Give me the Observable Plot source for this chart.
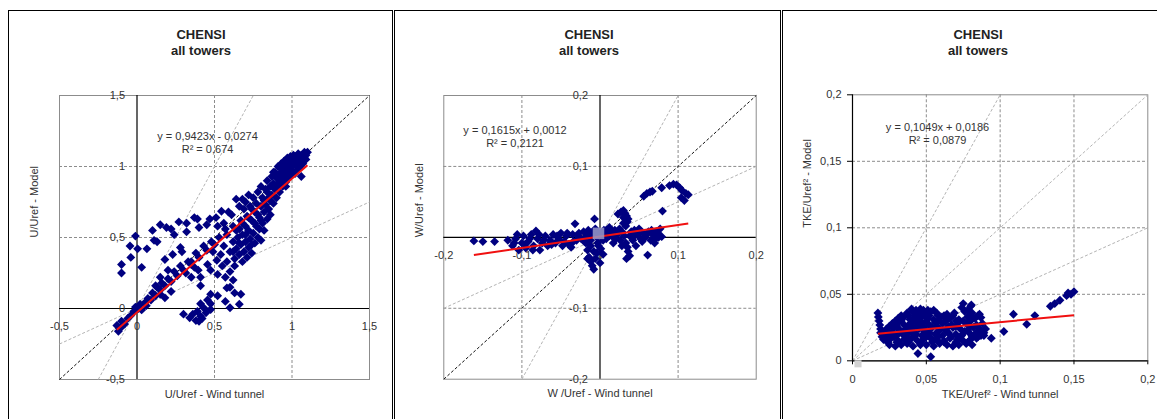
<!DOCTYPE html>
<html><head><meta charset="utf-8">
<script src="https://cdn.jsdelivr.net/npm/d3@7"></script>
<script src="https://cdn.jsdelivr.net/npm/@observablehq/plot@0.6"></script>
<style>
body{margin:0;background:#fff;}
#root{position:relative;width:1157px;height:419px;overflow:hidden;font-family:'Liberation Sans',Arial,sans-serif;}
.box{position:absolute;border:1.5px solid #000;box-sizing:border-box;pointer-events:none;z-index:5;}
.title{position:absolute;width:220px;text-align:center;font-weight:bold;font-size:13px;color:#222;line-height:16px;}
</style></head><body><div id="root"></div>
<script>
// ---------- data ----------
const panelTitles = ["CHENSI", "all towers"];
const xLabels = ["U/Uref - Wind tunnel", "W /Uref - Wind tunnel", "TKE/Uref² - Wind tunnel"];
const yLabels = ["U/Uref - Model", "W/Uref - Model", "TKE/Uref² - Model"];
const equations = ["y = 0,9423x - 0,0274", "y = 0,1615x + 0,0012", "y = 0,1049x + 0,0186"];
const r2Labels = ["R² = 0,674", "R² = 0,2121", "R² = 0,0879"];
const fitSlopes = [0.9423, 0.1615, 0.1049];
const fitIntercepts = [-0.0274, 0.0012, 0.0186];
const refSlopes = [1, 2, 0.5];

const ticksU = [-0.5, 0, 0.5, 1, 1.5];
const gridU = [0.5, 1];
const ticksW = [-0.2, -0.1, 0, 0.1, 0.2];
const gridW = [-0.1, 0.1];
const ticksTKE = [0, 0.05, 0.1, 0.15, 0.2];
const gridTKE = [0.05, 0.1, 0.15];

const uPoints = [
[-0.13,-0.12],[-0.12,-0.16],[-0.10,-0.13],[-0.10,-0.09],[-0.08,-0.11],[-0.06,-0.07],[-0.04,-0.05],[-0.02,-0.02],[-0.01,0.01],[0.01,0.0],
[0.02,0.03],[0.03,-0.01],[0.05,0.04],[0.06,0.02],[0.07,0.07],[0.09,0.06],[0.10,0.11],[0.12,0.09],[0.13,0.15],[0.15,0.13],
[0.16,0.18],[0.18,0.16],[0.20,0.21],[0.22,0.19],[0.24,0.26],[0.26,0.23],[0.28,0.30],[0.30,0.27],[0.33,0.33],[0.35,0.31],
[0.38,0.39],[0.40,0.36],[0.43,0.44],[0.45,0.41],[0.48,0.47],
[-0.10,0.31],[-0.10,0.25],[-0.01,0.51],[-0.045,0.44],[-0.04,0.36],[0.004,0.42],[0.03,0.29],[0.064,0.42],[0.10,0.55],[0.15,0.59],
[0.11,0.48],[0.13,0.47],[0.19,0.57],[0.22,0.56],[0.24,0.52],[0.27,0.61],[0.32,0.60],[0.32,0.54],[0.37,0.64],[0.39,0.63],
[0.40,0.57],[0.45,0.59],[0.47,0.63],[0.51,0.64],[0.545,0.685],[0.59,0.68],[0.61,0.66],[0.64,0.77],[0.28,0.43],[0.29,0.40],
[0.23,0.38],[0.18,0.345],[0.20,0.27],[0.15,0.22],[0.12,0.16],[0.15,0.10],[0.18,0.075],[0.22,0.12],[0.35,0.33],[0.37,0.29],
[0.315,0.25],[0.35,0.22],[0.41,0.22],[0.41,0.16],[0.395,0.27],[0.455,0.31],[0.475,0.27],[0.515,0.34],[0.52,0.24],[0.54,0.38],
[0.57,0.22],[0.58,0.145],[0.63,0.11],[0.67,0.10],[0.66,0.03],[0.60,0.005],[0.57,0.05],[0.52,0.09],[0.475,0.10],[0.455,0.06],
[0.475,0.033],[0.43,0.005],[0.41,0.033],[0.39,-0.02],[0.41,-0.054],[0.36,-0.04],[0.34,-0.066],[0.30,-0.04],[0.38,-0.085],[0.445,-0.03],
[0.475,-0.007],[0.42,-0.07],[0.40,-0.09],
[0.50,0.45],[0.53,0.50],[0.56,0.44],[0.58,0.52],[0.60,0.40],[0.62,0.47],[0.55,0.30],[0.58,0.33],[0.60,0.26],[0.62,0.20],
[0.60,0.15],[0.63,0.30],[0.49,0.40],[0.52,0.58],[0.56,0.60],[0.57,0.56],[0.62,0.58],
[0.63,0.35],[0.64,0.42],[0.65,0.50],[0.66,0.38],[0.66,0.56],[0.67,0.45],[0.67,0.62],[0.68,0.33],[0.68,0.52],[0.69,0.70],
[0.69,0.40],[0.70,0.58],[0.70,0.47],[0.70,0.75],[0.71,0.36],[0.71,0.65],
[0.72,0.43],[0.72,0.55],[0.73,0.72],[0.73,0.49],[0.74,0.62],[0.74,0.39],[0.75,0.78],[0.75,0.53],[0.76,0.46],[0.76,0.68],
[0.77,0.58],[0.77,0.74],[0.78,0.50],[0.78,0.82],[0.79,0.64],[0.79,0.56],[0.80,0.72],[0.80,0.48],[0.80,0.86],
[0.81,0.60],[0.81,0.78],[0.82,0.68],[0.82,0.55],[0.83,0.84],[0.83,0.73],[0.84,0.63],[0.84,0.90],[0.85,0.78],[0.85,0.70],
[0.86,0.86],[0.86,0.66],[0.87,0.93],[0.87,0.80],[0.88,0.74],[0.88,0.88],[0.89,0.96],[0.89,0.84],[0.90,0.78],[0.90,0.92],
[0.91,1.00],[0.91,0.87],[0.92,0.82],[0.92,0.95],[0.93,1.02],[0.93,0.90],[0.94,0.86],[0.94,0.98],[0.95,1.04],[0.95,0.93],
[0.96,0.89],[0.96,1.00],[0.97,1.06],[0.97,0.96],[0.98,1.02],[0.98,0.92],[0.99,1.07],[0.99,0.98],[1.00,1.04],[1.00,0.95],
[1.01,1.08],[1.02,1.01],[1.03,1.06],[1.03,0.97],[1.04,1.09],[1.05,1.04],[1.05,0.99],[1.06,1.08],[1.07,1.02],[1.08,1.10],
[1.08,1.06],[1.09,1.08],[1.10,1.10],[1.06,0.93],[0.96,0.86],[0.66,0.72],[0.68,0.77],[0.72,0.80],
[0.84,0.82],[0.86,0.76],[0.88,0.96],[0.90,0.85],[0.92,0.89],[0.93,0.96],[0.94,0.92],[0.95,0.99],[0.96,1.03],[0.97,0.92],
[0.98,0.97],[0.99,1.02],[1.00,1.00],[1.01,1.04],[1.02,1.07],[1.04,1.02],[1.06,1.05],[1.07,1.07],[1.09,1.05],[1.02,0.95],
[0.78,0.66],[0.74,0.70],[0.76,0.60],[0.80,0.62],[0.82,0.76],[0.72,0.64],[0.68,0.60],[0.70,0.52],[0.74,0.45],[0.66,0.46],
[0.64,0.55],[0.62,0.40]
];

const wPoints = [
[-0.1615,-0.005],[-0.150,-0.006],[-0.135,-0.006],[-0.118,-0.004],[-0.112,-0.012],[-0.108,-0.002],[-0.104,-0.018],[-0.100,-0.008],[-0.098,0.002],[-0.095,-0.015],
[-0.092,-0.006],[-0.088,0.004],[-0.085,-0.012],[-0.082,0.009],[-0.080,-0.002],[-0.077,-0.018],[-0.074,-0.008],[-0.070,0.002],[-0.067,-0.012],[-0.064,-0.004],
[-0.060,0.004],[-0.057,-0.008],[-0.053,-0.002],[-0.050,0.006],[-0.046,-0.006],[-0.043,0.002],[-0.040,-0.010],[-0.037,-0.014],[-0.035,0.004],[-0.032,0.019],
[-0.030,-0.004],[-0.027,0.006],[-0.024,-0.002],[-0.021,0.008],[-0.018,0.001],[-0.015,0.010],[-0.012,-0.004],[-0.010,0.005],[-0.007,0.026],[-0.006,0.012],
[-0.004,0.0],
[-0.016,-0.018],[-0.014,-0.028],[-0.012,-0.034],[-0.010,-0.040],[-0.008,-0.045],[-0.006,-0.030],[-0.004,-0.022],[-0.002,-0.012],[-0.018,-0.008],[-0.008,-0.020],
[0.000,-0.036],[-0.003,-0.008],
[0.002,0.004],[0.005,0.010],[0.008,-0.002],[0.010,0.006],[0.012,0.014],[0.015,0.002],[0.017,-0.008],[0.019,0.010],[0.021,0.004],[0.023,0.033],
[0.025,0.012],[0.026,-0.004],[0.028,0.008],[0.027,0.036],[0.030,0.038],[0.032,0.034],[0.034,0.030],[0.035,0.022],[0.033,0.016],[0.030,0.020],
[0.031,0.002],[0.033,-0.008],[0.035,-0.014],[0.034,-0.030],[0.038,-0.026],[0.036,-0.020],[0.040,0.008],[0.042,-0.004],[0.044,0.010],[0.046,-0.012],
[0.048,0.004],[0.050,0.012],[0.052,-0.002],[0.055,0.006],[0.058,0.000],[0.061,-0.025],[0.062,0.008],[0.065,-0.004],[0.068,0.004],[0.071,-0.002],
[0.074,0.006],[0.077,0.012],[0.080,0.037],[0.079,0.001],
[0.056,0.058],[0.060,0.062],[0.064,0.064],[0.067,0.065],[0.079,0.070],[0.089,0.073],[0.094,0.075],[0.098,0.074],[0.102,0.070],[0.105,0.066],
[0.110,0.062],[0.113,0.060],[0.104,0.056],[0.108,0.052],
[-0.110,-0.008],[-0.106,0.004],[-0.096,-0.010],[-0.090,-0.002],[-0.086,-0.018],[-0.078,0.004],[-0.072,-0.004],[-0.062,-0.010],[-0.055,0.002],[-0.048,-0.012],
[-0.042,0.006],[-0.034,-0.006],[-0.028,0.002],[-0.020,-0.006],[-0.014,0.004],[-0.008,0.008],[0.004,-0.004],[0.008,0.010],[0.012,0.002],[0.016,0.008],
[0.020,-0.002],[0.024,0.006],[0.038,0.002],[0.044,0.002],[0.054,-0.006],[0.060,0.004],[0.066,0.010],[0.072,0.008],[0.070,-0.008],[0.075,0.000],
[-0.002,0.006],[0.001,-0.016],[-0.012,-0.012],[-0.016,-0.030],[0.004,-0.024],[0.028,-0.012],[0.030,0.028],[0.036,0.026]
];

const tkePoints = [
[0.0172,0.036],[0.0175,0.033],[0.018,0.030],[0.0185,0.027],[0.019,0.024],[0.019,0.021],[0.020,0.018],[0.021,0.016],
[0.025,0.012],[0.029,0.011],[0.033,0.012],[0.037,0.013],[0.041,0.011],[0.046,0.012],[0.050,0.012],[0.055,0.011],[0.059,0.013],[0.064,0.012],[0.068,0.011],[0.072,0.012],[0.077,0.013],[0.081,0.012],
[0.022,0.016],[0.026,0.017],[0.031,0.015],[0.035,0.016],[0.040,0.017],[0.044,0.015],[0.048,0.016],[0.053,0.017],[0.057,0.016],[0.062,0.015],[0.066,0.017],[0.071,0.016],[0.075,0.015],[0.080,0.016],[0.084,0.017],
[0.021,0.020],[0.025,0.021],[0.030,0.019],[0.034,0.020],[0.038,0.021],[0.043,0.020],[0.047,0.019],[0.052,0.021],[0.056,0.020],[0.061,0.019],[0.065,0.021],[0.070,0.020],[0.074,0.019],[0.079,0.021],[0.083,0.020],[0.087,0.019],
[0.023,0.024],[0.028,0.025],[0.032,0.023],[0.036,0.024],[0.041,0.025],[0.045,0.024],[0.050,0.023],[0.054,0.025],[0.059,0.024],[0.063,0.023],[0.068,0.025],[0.073,0.024],[0.078,0.023],[0.082,0.025],[0.086,0.024],[0.090,0.024],
[0.027,0.028],[0.031,0.029],[0.035,0.027],[0.039,0.028],[0.043,0.029],[0.047,0.028],[0.052,0.027],[0.056,0.029],[0.061,0.028],[0.067,0.027],[0.072,0.029],[0.077,0.028],
[0.031,0.032],[0.035,0.033],[0.039,0.031],[0.043,0.032],[0.047,0.033],[0.051,0.032],[0.055,0.031],[0.060,0.033],[0.066,0.032],[0.072,0.031],[0.078,0.033],[0.083,0.032],
[0.037,0.036],[0.041,0.037],[0.045,0.035],[0.049,0.036],[0.053,0.037],[0.057,0.036],[0.064,0.035],[0.069,0.036],[0.076,0.037],[0.081,0.036],[0.086,0.035],
[0.040,0.039],[0.046,0.039],[0.051,0.038],[0.074,0.040],[0.080,0.041],
[0.075,0.043],[0.0805,0.042],[0.087,0.0325],[0.088,0.028],[0.090,0.024],[0.094,0.017],[0.089,0.019],[0.0443,0.0055],[0.053,0.003],[0.1025,0.022],
[0.109,0.035],[0.118,0.0275],[0.1235,0.034],[0.134,0.041],[0.137,0.043],[0.1405,0.0455],[0.145,0.049],[0.148,0.050],[0.150,0.052],[0.146,0.051],
[0.024,0.014],[0.030,0.014],[0.038,0.014],[0.046,0.014],[0.054,0.014],[0.062,0.014],[0.070,0.014],[0.078,0.014],
[0.023,0.018],[0.028,0.018],[0.036,0.018],[0.042,0.018],[0.050,0.018],[0.058,0.018],[0.067,0.018],[0.073,0.018],[0.081,0.018],[0.085,0.018],
[0.022,0.022],[0.027,0.022],[0.033,0.022],[0.040,0.022],[0.049,0.022],[0.058,0.022],[0.064,0.022],[0.076,0.022],[0.085,0.022],[0.089,0.021],
[0.025,0.026],[0.030,0.026],[0.038,0.026],[0.044,0.026],[0.048,0.026],[0.057,0.026],[0.065,0.026],[0.070,0.026],[0.080,0.026],[0.084,0.027],
[0.029,0.030],[0.033,0.030],[0.041,0.030],[0.045,0.030],[0.050,0.030],[0.058,0.030],[0.063,0.030],[0.070,0.030],[0.075,0.030],[0.080,0.030],
[0.033,0.034],[0.038,0.034],[0.042,0.034],[0.047,0.034],[0.052,0.034],[0.058,0.034],[0.062,0.034],[0.068,0.034],[0.080,0.034],[0.085,0.034],
[0.043,0.038],[0.048,0.038],[0.055,0.038],[0.078,0.038]
];

// ---------- drawing ----------
const FONT = "'Liberation Sans', Arial, sans-serif";
const root = document.getElementById("root");
const fmt = d => String(d).replace(".", ",");

function refSegment(k, lo, hi) {
  const a = Math.max(lo, lo / k), b = Math.min(hi, hi / k);
  return {x1: a, y1: k * a, x2: b, y2: k * b};
}

function panel(cfg) {
  const {i, left, width, ml, mr, mt, mb, domain, ticks, grid, points, crossing, diagBlack, eqX, eqY,
         yTickDx, xTickDy, yLabDx, xLabDy, originSquare} = cfg;
  const refs = refSlopes.map(k => ({k, ...refSegment(k, domain[0], domain[1])}));
  const [fx1, fx2] = d3.extent(points, d => d[0]);
  const fit = [{x1: fx1, y1: fitSlopes[i] * fx1 + fitIntercepts[i], x2: fx2, y2: fitSlopes[i] * fx2 + fitIntercepts[i]}];
  const xTickData = ticks.map(v => ({v, x: v, y: crossing ? 0 : domain[0]}));
  const yTickData = ticks.map(v => ({v, y: v, x: crossing ? 0 : domain[0]}));
  const marks = [
    Plot.frame({stroke: "#8c8c8c"}),
    Plot.ruleX(grid, {stroke: "#8c8c8c", strokeDasharray: "3,2"}),
    Plot.ruleY(grid, {stroke: "#8c8c8c", strokeDasharray: "3,2"}),
    Plot.link(refs.filter(r => !(diagBlack && r.k === 1)), {x1: "x1", y1: "y1", x2: "x2", y2: "y2", stroke: "#b4b4b4", strokeDasharray: "3,2"}),
    Plot.link(refs.filter(r => diagBlack && r.k === 1), {x1: "x1", y1: "y1", x2: "x2", y2: "y2", stroke: "#111", strokeDasharray: "3,2"}),
    Plot.ruleX([0], {stroke: "#000", strokeWidth: 1.2}),
    Plot.ruleY([0], {stroke: "#000", strokeWidth: 1.2}),
    Plot.text(xTickData, {x: "x", y: "y", text: d => fmt(d.v), dy: xTickDy, fontSize: 11, fill: "#333"}),
    Plot.text(yTickData, {x: "x", y: "y", text: d => fmt(d.v), dx: yTickDx, textAnchor: "end", fontSize: 11, fill: "#333"}),
    Plot.dot(points, {x: d => d[0], y: d => d[1], symbol: "diamond2", r: 4, fill: "#000080", stroke: "none"}),
    Plot.link(fit, {x1: "x1", y1: "y1", x2: "x2", y2: "y2", stroke: "#f01010", strokeWidth: 2}),
    Plot.text([{x: eqX, y: eqY, t: equations[i] + "\n" + r2Labels[i]}], {x: "x", y: "y", text: "t", fontSize: 11, lineHeight: 1.15, fill: "#333"}),
    Plot.text([xLabels[i]], {frameAnchor: "bottom", dy: xLabDy, text: d => d, fontSize: 11, fill: "#333"}),
    Plot.text([yLabels[i]], {frameAnchor: "left", dx: yLabDx, rotate: -90, text: d => d, fontSize: 11, fill: "#333"})
  ];
  if (originSquare) {
    marks.push(Plot.dot([{x: 0, y: 0}], {x: "x", y: "y", symbol: "square", r: originSquare.r, fill: originSquare.fill, fillOpacity: originSquare.op, dx: originSquare.dx, dy: originSquare.dy}));
  }
  if (!crossing && typeof Plot.axisY === "function") {
    marks.push(Plot.axisY(ticks, {anchor: "left", tickSize: 5, tickFormat: () => "", label: null, stroke: "#000"}));
    marks.push(Plot.axisX(ticks, {anchor: "bottom", tickSize: 4, tickFormat: () => "", label: null, stroke: "#000"}));
  }
  const svg = Plot.plot({
    width, height: 419,
    marginLeft: ml, marginRight: mr, marginTop: mt, marginBottom: mb,
    x: {domain, axis: null},
    y: {domain, axis: null},
    style: {background: "transparent", fontFamily: FONT, fontSize: "11px", color: "#333", overflow: "visible"},
    marks
  });
  svg.style.position = "absolute";
  svg.style.left = left + "px";
  svg.style.top = "0px";
  root.appendChild(svg);
}

panel({i: 0, left: 0, width: 392, ml: 59, mr: 23, mt: 95, mb: 40, domain: [-0.5, 1.5], ticks: ticksU, grid: gridU,
  points: uPoints, crossing: true, diagBlack: true, eqX: 0.455, eqY: 1.17, yTickDx: -12, xTickDy: 18, yLabDx: -25, xLabDy: 18});
panel({i: 1, left: 395, width: 385, ml: 48.3, mr: 24.3, mt: 95, mb: 40.3, domain: [-0.2, 0.2], ticks: ticksW, grid: gridW,
  points: wPoints, crossing: true, diagBlack: true, eqX: -0.1088, eqY: 0.142, yTickDx: -12, xTickDy: 18, yLabDx: -24, xLabDy: 18,
  originSquare: {r: 6.5, fill: "#9a9ac8", op: 0.85, dx: -1.5, dy: -4}});
panel({i: 2, left: 783, width: 374, ml: 69, mr: 9.7, mt: 94.3, mb: 58.7, domain: [0, 0.2], ticks: ticksTKE, grid: gridTKE,
  points: tkePoints, crossing: false, diagBlack: false, eqX: 0.0576, eqY: 0.171, yTickDx: -11, xTickDy: 19, yLabDx: -45, xLabDy: 37,
  originSquare: {r: 4, fill: "#d2d2d2", op: 1, dx: 5.5, dy: 3}});

// titles and panel frames
[201, 589, 978].forEach(cx => {
  const a = document.createElement("div");
  a.className = "title"; a.style.left = (cx - 110) + "px"; a.style.top = "27px"; a.textContent = panelTitles[0];
  const b = document.createElement("div");
  b.className = "title"; b.style.left = (cx - 110) + "px"; b.style.top = "43px"; b.textContent = panelTitles[1];
  root.appendChild(a); root.appendChild(b);
});
[[8, 385], [394, 387], [782, 420]].forEach(([l, w]) => {
  const d = document.createElement("div");
  d.className = "box"; d.style.left = l + "px"; d.style.top = "10px"; d.style.width = w + "px"; d.style.height = "460px";
  root.appendChild(d);
});
</script></body></html>
